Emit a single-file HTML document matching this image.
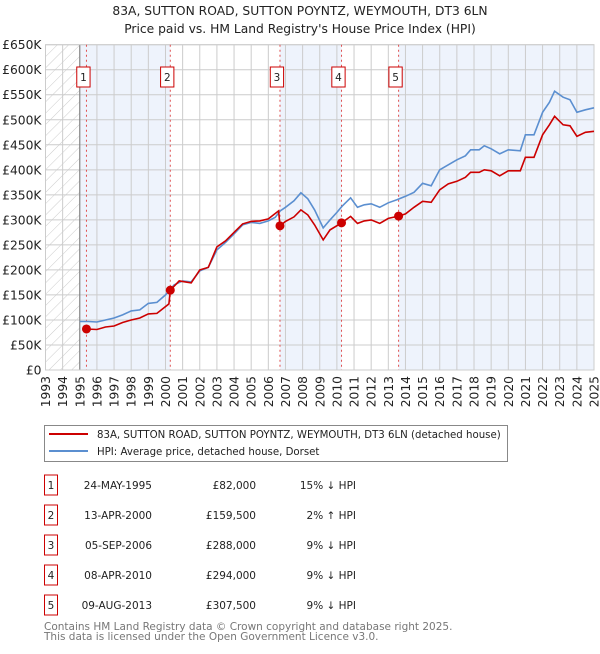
<!DOCTYPE html>
<html><head><meta charset="utf-8"><style>
body{margin:0;background:#fff;font-family:"DejaVu Sans","Liberation Sans",sans-serif;}
svg text{font-family:"DejaVu Sans","Liberation Sans",sans-serif;}
</style></head><body>
<svg id="chart" width="600" height="650" xmlns="http://www.w3.org/2000/svg">
<defs><pattern id="hatch" width="8" height="8" patternUnits="userSpaceOnUse" patternTransform="rotate(45)"><line x1="0" y1="0" x2="0" y2="8" stroke="#ccc" stroke-width="1"/></pattern></defs>
<text x="300" y="15" text-anchor="middle" font-size="12.3" fill="#222">83A, SUTTON ROAD, SUTTON POYNTZ, WEYMOUTH, DT3 6LN</text>
<text x="300" y="33" text-anchor="middle" font-size="12.3" fill="#222">Price paid vs. HM Land Registry's House Price Index (HPI)</text>
<g id="plot"></g>
<g>
<rect x="44.5" y="425.5" width="463" height="36" fill="#fff" stroke="#888"/>
<line x1="49" y1="434" x2="88" y2="434" stroke="#cc0000" stroke-width="2"/>
<text x="97" y="438" font-size="10.2" fill="#222">83A, SUTTON ROAD, SUTTON POYNTZ, WEYMOUTH, DT3 6LN (detached house)</text>
<line x1="49" y1="451" x2="88" y2="451" stroke="#5b8fd0" stroke-width="2"/>
<text x="97" y="455" font-size="10.2" fill="#222">HPI: Average price, detached house, Dorset</text>
</g>
<g id="table"></g>
<text x="44" y="630" font-size="10.5" fill="#777">Contains HM Land Registry data © Crown copyright and database right 2025.</text>
<text x="44" y="640" font-size="10.5" fill="#777">This data is licensed under the Open Government Licence v3.0.</text>
</svg>
<script>
const hpiYears=[1995,1995.5,1996,1996.5,1997,1997.5,1998,1998.5,1999,1999.5,2000,2000.5,2001,2001.5,2002,2002.5,2003,2003.5,2004,2004.5,2005,2005.5,2006,2006.4,2006.7,2007,2007.5,2007.9,2008.3,2008.7,2009.2,2009.6,2010,2010.3,2010.8,2011.2,2011.6,2012,2012.5,2013,2013.5,2014,2014.5,2015,2015.5,2016,2016.5,2017,2017.5,2017.8,2018.3,2018.6,2019,2019.5,2020,2020.7,2021,2021.5,2022,2022.4,2022.7,2023.2,2023.6,2024,2024.5,2025];
const hpiValues=[97,97,96,100,104,110,118,120,133,135,150,170,178,176,198,205,240,255,272,290,295,293,298,305,318,325,338,354,342,320,284,300,315,327,344,325,330,332,325,334,340,347,355,373,368,400,410,420,428,440,440,448,442,432,440,438,470,470,515,535,557,545,540,515,520,524];
const redYears=[1995.4,1996,1996.5,1997,1997.5,1998,1998.5,1999,1999.5,2000.2,2000.28,2000.8,2001.5,2002,2002.5,2003,2003.5,2004,2004.5,2005,2005.5,2006,2006.6,2006.68,2007,2007.5,2007.9,2008.3,2008.7,2009.2,2009.6,2010.27,2010.8,2011.2,2011.6,2012,2012.5,2013,2013.6,2014,2014.5,2015,2015.5,2016,2016.5,2017,2017.5,2017.8,2018.3,2018.6,2019,2019.5,2020,2020.7,2021,2021.5,2022,2022.4,2022.7,2023.2,2023.6,2024,2024.5,2025];
const redValues=[82,81,86,88,95,100,104,112,113,132,159.5,178,174,200,205,246,258,275,292,297,298,302,318,288,297,306,320,310,290,260,280,294,307,293,298,300,293,303,307.5,312,325,337,335,360,372,377,385,395,395,400,398,388,398,398,425,425,470,490,507,490,488,467,475,477];
const saleYears=[1995.39,2000.28,2006.68,2010.27,2013.6];
const saleValues=[82,159.5,288,294,307.5];
const saleLabels=["1","2","3","4","5"];
const saleDates=["24-MAY-1995","13-APR-2000","05-SEP-2006","08-APR-2010","09-AUG-2013"];
const salePrices=["£82,000","£159,500","£288,000","£294,000","£307,500"];
const saleHpi=["15% ↓ HPI","2% ↑ HPI","9% ↓ HPI","9% ↓ HPI","9% ↓ HPI"];
const yTicks=[0,50,100,150,200,250,300,350,400,450,500,550,600,650];
const yTickLabels=["£0","£50K","£100K","£150K","£200K","£250K","£300K","£350K","£400K","£450K","£500K","£550K","£600K","£650K"];
const xTicks=[1993,1994,1995,1996,1997,1998,1999,2000,2001,2002,2003,2004,2005,2006,2007,2008,2009,2010,2011,2012,2013,2014,2015,2016,2017,2018,2019,2020,2021,2022,2023,2024,2025];

const X0=45.5,X1=594,Y0=370,Y1=44.7;
const x=v=>X0+(v-1993)*(X1-X0)/32;
const y=v=>Y0-v*(Y0-Y1)/650;
const NS="http://www.w3.org/2000/svg";
const plot=document.getElementById('plot');
function mk(tag,attrs,parent){const e=document.createElementNS(NS,tag);for(const k in attrs)e.setAttribute(k,attrs[k]);(parent||plot).appendChild(e);return e;}

const bandEdges=[1995].concat(saleYears.slice(1)).concat([2025]);
for(let i=0;i<bandEdges.length-1;i++){
  if(i%2===0){const r=mk('rect',{x:x(bandEdges[i]),y:Y1,width:x(bandEdges[i+1])-x(bandEdges[i]),height:Y0-Y1,fill:'#eef3fc'});
  
  }
}
const h=mk('rect',{x:X0,y:Y1,width:x(1995)-X0,height:Y0-Y1,fill:'url(#hatch)'});


yTicks.forEach((t,i)=>{
  mk('line',{x1:X0,x2:X1,y1:y(t),y2:y(t),stroke:'#ccc','stroke-width':1});
  const tx=mk('text',{x:X0-4,y:y(t)+4.5,'text-anchor':'end','font-size':12.3,fill:'#222'});
  tx.textContent=yTickLabels[i];
  
  
});
xTicks.forEach(t=>{
  mk('line',{x1:x(t),x2:x(t),y1:Y1,y2:Y0,stroke:'#ccc','stroke-width':1});
  const tx=mk('text',{x:0,y:0,'text-anchor':'end','font-size':12.3,fill:'#222',transform:`translate(${x(t)+4.5},${Y0+6}) rotate(-90)`});
  tx.textContent=String(t);
  
  
});
mk('line',{x1:x(1995),x2:x(1995),y1:Y1,y2:Y0,stroke:'#777','stroke-width':1});
mk('rect',{x:X0,y:Y1,width:X1-X0,height:Y0-Y1,fill:'none',stroke:'#ccc'});
saleYears.forEach((s,i)=>{
  mk('line',{x1:x(s),x2:x(s),y1:Y1,y2:Y0,stroke:'#e05050','stroke-width':1,'stroke-dasharray':'2,3'});
  const g=mk('g',{});
  
  
  mk('rect',{x:x(s)-9.7,y:67,width:13.3,height:20,fill:'#fff',stroke:'#cc0000'},g);
  const t=mk('text',{x:x(s)-3,y:81,'text-anchor':'middle','font-size':10.5,fill:'#222'},g);
  t.textContent=saleLabels[i];
});
function line(xs,vs,color,name){
  const p=mk('path',{d:xs.map((a,i)=>(i?'L':'M')+x(a).toFixed(1)+','+y(vs[i]).toFixed(1)).join(''),fill:'none',stroke:color,'stroke-width':1.6});
  
  
}
line(hpiYears,hpiValues,'#5b8fd0','hpi-line');
line(redYears,redValues,'#cc0000','price-paid-line');
saleYears.forEach((s,i)=>{
  const c=mk('circle',{cx:x(s),cy:y(saleValues[i]),r:4.5,fill:'#cc0000'});
  
  
});
const tbl=document.getElementById('table');
saleLabels.forEach((l,i)=>{
  const yy=483+i*30;
  const g=mk('g',{},tbl);
  
  
  mk('rect',{x:44.5,y:yy-8,width:13,height:20,fill:'#fff',stroke:'#cc0000'},g);
  const a=mk('text',{x:51,y:yy+6,'text-anchor':'middle','font-size':10.5,fill:'#222'},g);a.textContent=l;
  const b=mk('text',{x:152,y:yy+6,'text-anchor':'end','font-size':10.5,fill:'#222'},g);b.textContent=saleDates[i];
  const c=mk('text',{x:256,y:yy+6,'text-anchor':'end','font-size':10.5,fill:'#222'},g);c.textContent=salePrices[i];
  const d=mk('text',{x:356,y:yy+6,'text-anchor':'end','font-size':10.5,fill:'#222'},g);d.textContent=saleHpi[i];
});
</script>
</body></html>
